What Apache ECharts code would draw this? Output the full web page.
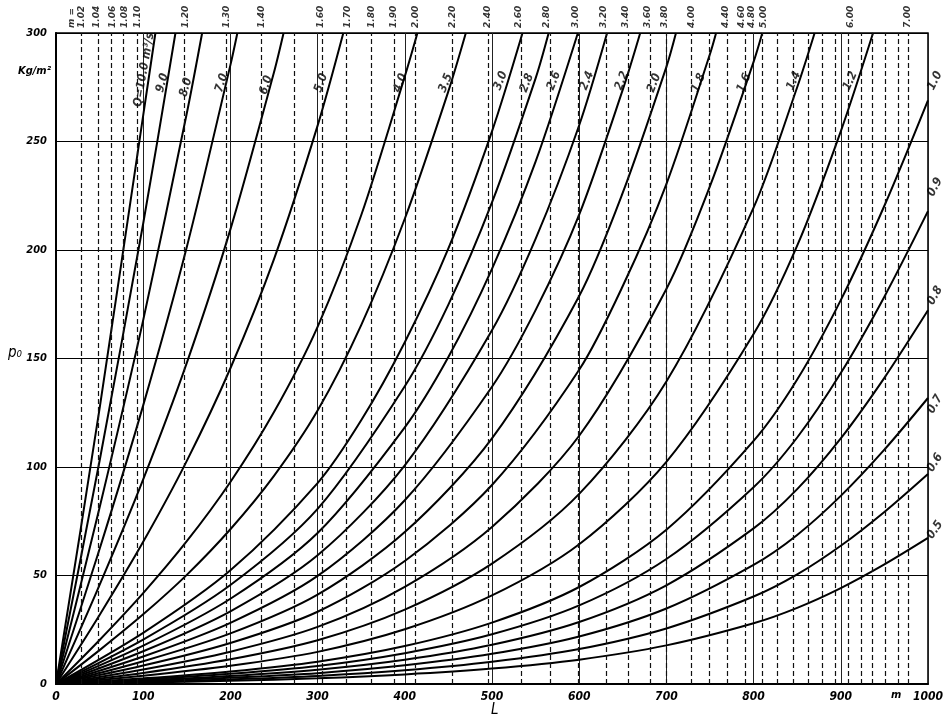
<!DOCTYPE html>
<html>
<head>
<meta charset="utf-8">
<script src="https://cdn.jsdelivr.net/npm/echarts@6/dist/echarts.min.js"></script>
<style>
html,body{margin:0;padding:0;background:#fff}
#main{width:946px;height:719px}
</style>
</head>
<body>
<div id="main"></div>
<script>
// Q curves, p0 (kg/m2) against L (m)
var qTexts = ['Q=10.0 m³/s','9.0','8.0','7.0','6.0','5.0','4.0','3.5','3.0','2.8','2.6','2.4',
              '2.2','2.0','1.8','1.6','1.4','1.2','1.0','0.9','0.8','0.7','0.6','0.5'];

var curvePoints = [
  [[0,0],[50,127],[100,262],[114,300]],
  [[0,0],[50,102.9],[100,212.2],[137,300]],
  [[0,0],[50,81.3],[100,167.7],[150,263],[167.6,300]],
  [[0,0],[50,62.2],[100,128.4],[150,201.4],[200,285.2],[208,300]],
  [[0,0],[50,45.7],[100,94.3],[150,148],[200,209.5],[250,281.9],[261,300]],
  [[0,0],[50,31.8],[100,65.5],[150,102.8],[200,145.5],[250,195.8],[300,257.3],[329.5,300]],
  [[0,0],[50,20.3],[100,41.9],[150,65.8],[200,93.1],[250,125.3],[300,164.6],[350,216],[400,280],[414.5,300]],
  [[0,0],[50,15.6],[100,32.1],[150,50.3],[200,71.3],[250,95.9],[300,126],[350,165.4],[400,214.4],[450,273.2],[470,300]],
  [[0,0],[100,23.6],[200,52.4],[300,92.6],[350,121.5],[400,157.5],[450,200.7],[500,254.7],[535,300]],
  [[0,0],[100,20.5],[200,45.6],[300,80.7],[400,137.2],[450,174.8],[500,221.9],[550,279.1],[565,300]],
  [[0,0],[100,17.7],[200,39.3],[300,69.6],[400,118.3],[450,150.7],[500,191.3],[550,240.7],[598.5,300]],
  [[0,0],[100,15.1],[200,33.5],[300,59.3],[400,100.8],[500,163],[550,205.1],[600,257.5],[632,300]],
  [[0,0],[100,12.7],[200,28.2],[300,49.8],[400,84.7],[500,137],[550,172.3],[600,216.3],[650,273.9],[670,300]],
  [[0,0],[100,10.5],[200,23.3],[300,41.2],[400,70],[500,113.2],[600,178.8],[650,226.4],[700,284.4],[711,300]],
  [[0,0],[100,8.5],[200,18.9],[300,33.3],[400,56.7],[500,91.7],[600,144.8],[650,183.4],[700,230.4],[750,290.3],[757,300]],
  [[0,0],[100,6.7],[200,14.9],[300,26.3],[400,44.8],[500,72.4],[600,114.4],[700,182],[750,229.4],[800,286.7],[810,300]],
  [[0,0],[100,5.1],[200,11.4],[300,20.2],[400,34.3],[500,55.5],[600,87.6],[700,139.4],[800,219.5],[850,275],[870,300]],
  [[0,0],[100,3.8],[200,8.4],[300,14.8],[400,25.2],[500,40.8],[600,64.4],[700,102.4],[800,161.3],[850,202],[900,254.7],[937,300]],
  [[0,0],[100,2.6],[200,5.8],[300,10.3],[400,17.5],[500,28.3],[600,44.7],[700,71.1],[800,112],[850,140.3],[900,176.9],[950,220.4],[1000,269]],
  [[0,0],[100,2.1],[200,4.7],[300,8.3],[400,14.2],[500,22.9],[600,36.2],[700,57.6],[800,90.7],[850,113.6],[900,143.3],[950,178.5],[1000,217.9]],
  [[0,0],[100,1.7],[200,3.7],[300,6.6],[400,11.2],[500,18.1],[600,28.6],[700,45.5],[800,71.7],[850,89.8],[900,113.2],[950,141.1],[1000,172.2]],
  [[0,0],[100,1.3],[200,2.9],[300,5],[400,8.6],[500,13.9],[600,21.9],[700,34.8],[800,54.9],[850,68.7],[900,86.7],[950,108],[1000,131.8]],
  [[0,0],[100,0.9],[200,2.1],[300,3.7],[400,6.3],[500,10.2],[600,16.1],[700,25.6],[800,40.3],[850,50.5],[900,63.7],[950,79.3],[1000,96.8]],
  [[0,0],[100,0.7],[200,1.5],[300,2.6],[400,4.4],[500,7.1],[600,11.2],[700,17.8],[800,28],[850,35.1],[900,44.2],[950,55.1],[1000,67.3]]
];

// where each Q label sits (L, p, rotation)
var qLabelAt = [
  [101,283,80],[122,277,74],[149,275,74],[190,277,72],[241,276,72],[304,277,70],[395,277,68],[447,277,68],
  [510,278,68],[540,277,68],[571,278,68],[609,278,68],[649,278,68],[686,277,68],[737,277,66],[789,277,66],
  [846,278,66],[911,278,66],[1008,278,64],[1008,229,62],[1008,179,60],[1008,129,60],[1008,102,58],[1008,71,56]
];

// dashed m lines (L positions)
var mLineL = [28.5,47.9,63.9,77.5,93.5,147,195,235,273,305,333,362,388,412,455,496,533,567,599,631,656,681,
              700,729,749,770,791,810,827,845,863,879,894,909,924,936,951,966,977];

// m tick texts along the top and where they are written
var mTexts = ['m =','1.02','1.04','1.06','1.08','1.10','1.20','1.30','1.40','1.60','1.70','1.80','1.90','2.00',
              '2.20','2.40','2.60','2.80','3.00','3.20','3.40','3.60','3.80','4.00','4.40','4.60','4.80','5.00','6.00','7.00'];
var mTextL = [18,29.6,46.8,65,78.7,93.5,149,196,236,304,334,362,387,413,455,495,531,563,596,628,653,678,698,729,
              768,786,798,811,911,977];

var xTicks = [0,100,200,300,400,500,600,700,800,900,1000];
var yTicks = [0,50,100,150,200,250,300];

var FONT = "'DejaVu Sans Condensed','DejaVu Sans',sans-serif";

var myChart = echarts.init(document.getElementById('main'));

var series = [];
// dashed verticals
series.push({
  type: 'line', data: [], silent: true,
  markLine: {
    silent: true, symbol: ['none','none'], animation: false,
    label: {show: false},
    lineStyle: {type: [5,3], color: '#111', width: 1.2},
    data: mLineL.map(function(v){ return {xAxis: v}; })
  }
});
curvePoints.forEach(function(pts, i){
  series.push({
    type: 'line', name: qTexts[i], data: pts, showSymbol: false,
    smooth: 0.3, silent: true,
    lineStyle: {color: '#000', width: 2}
  });
});
series.push({
  type: 'scatter', symbolSize: 0, clip: false, silent: true,
  data: qLabelAt.map(function(a, i){
    return {name: qTexts[i], value: [a[0], a[1]], label: {rotate: a[2]}};
  }),
  label: {show: true, position: 'inside', formatter: '{b}', color: '#000',
          fontSize: 12, fontStyle: 'italic', fontWeight: 'bold', fontFamily: FONT}
});
series.push({
  type: 'scatter', symbolSize: 0, clip: false, silent: true,
  data: mTextL.map(function(v, i){ return {name: mTexts[i], value: [v, 300]}; }),
  label: {show: true, position: 'top', distance: 5, rotate: 90, align: 'left', verticalAlign: 'middle',
          formatter: '{b}', color: '#000', fontSize: 9, fontStyle: 'italic', fontWeight: 'bold',
          fontFamily: "'DejaVu Sans',sans-serif"}
});

var option = {
  animation: false,
  backgroundColor: '#fff',
  grid: {left: 56, right: 13, top: 33, bottom: 35, show: true, borderColor: '#000', borderWidth: 1.5},
  xAxis: {
    type: 'value', min: 0, max: 1000, interval: 100,
    axisLine: {lineStyle: {color: '#000', width: 2}},
    axisTick: {show: false},
    splitLine: {show: true, lineStyle: {color: '#222', width: 1}},
    axisLabel: {color: '#000', fontSize: 12, fontStyle: 'italic', fontWeight: 'bold', fontFamily: FONT, margin: 7,
                customValues: xTicks, formatter: function(v){ return String(v); }}
  },
  yAxis: {
    type: 'value', min: 0, max: 300, interval: 50,
    axisLine: {lineStyle: {color: '#000', width: 2}},
    axisTick: {show: false},
    splitLine: {show: true, lineStyle: {color: '#000', width: 1}},
    axisLabel: {color: '#000', fontSize: 11, fontStyle: 'italic', fontWeight: 'bold', fontFamily: FONT, margin: 9,
                customValues: yTicks}
  },
  graphic: [
    {type: 'text', left: 18, top: 66, style: {text: 'Kg/m²', fontSize: 11, fontStyle: 'italic', fontWeight: 'bold', fontFamily: FONT, fill: '#000'}},
    {type: 'text', left: 8, top: 346, style: {text: 'p₀', fontSize: 15, fontStyle: 'italic', fontFamily: FONT, fill: '#000'}},
    {type: 'text', left: 491, top: 703, style: {text: 'L', fontSize: 15, fontStyle: 'italic', fontFamily: FONT, fill: '#000'}},
    {type: 'text', left: 891, top: 690, style: {text: 'm', fontSize: 11, fontStyle: 'italic', fontWeight: 'bold', fontFamily: FONT, fill: '#000'}}
  ],
  series: series
};

myChart.setOption(option);
</script>
</body>
</html>
